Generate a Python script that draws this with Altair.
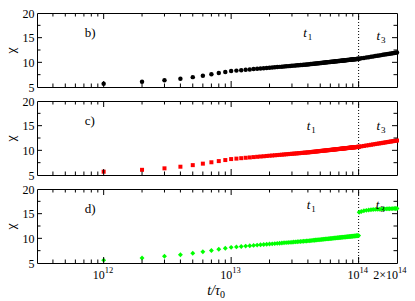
import altair as alt
import pandas as pd

# ---------------- data (t in units of 1e12 tau0) ----------------
t_pre_units = list(range(1, 101))
t_post_units = [101, 105, 110, 115, 120, 125, 130, 135, 140, 145, 150,
                155, 160, 165, 170, 175, 180, 185, 190, 195, 200]

chi_b_pre = [5.67, 6.05, 6.35, 6.68, 7.00, 7.30, 7.58, 7.82, 8.03, 8.23,
             8.32, 8.41, 8.49, 8.56, 8.63, 8.69, 8.75, 8.80, 8.86, 8.91,
             8.95, 9.00, 9.04, 9.08, 9.12, 9.16, 9.20, 9.23, 9.27, 9.30,
             9.33, 9.36, 9.39, 9.42, 9.45, 9.48, 9.51, 9.53, 9.56, 9.58,
             9.61, 9.64, 9.67, 9.70, 9.73, 9.75, 9.78, 9.81, 9.83, 9.86,
             9.88, 9.91, 9.93, 9.95, 9.98, 10.00, 10.02, 10.04, 10.06, 10.08,
             10.10, 10.12, 10.14, 10.16, 10.18, 10.20, 10.22, 10.24, 10.26, 10.27,
             10.29, 10.31, 10.33, 10.34, 10.36, 10.38, 10.39, 10.41, 10.43, 10.44,
             10.46, 10.47, 10.49, 10.50, 10.52, 10.53, 10.55, 10.56, 10.57, 10.59,
             10.60, 10.61, 10.63, 10.64, 10.65, 10.67, 10.68, 10.69, 10.71, 10.72]
chi_b_post = [10.74, 10.81, 10.89, 10.98, 11.05, 11.13, 11.20, 11.27, 11.34, 11.40,
              11.46, 11.52, 11.58, 11.64, 11.69, 11.75, 11.80, 11.85, 11.90, 11.94, 11.99]

chi_c_pre = list(chi_b_pre)
chi_c_post = list(chi_b_post)

chi_d_pre = [5.58, 6.02, 6.38, 6.68, 6.98, 7.27, 7.54, 7.78, 7.98, 8.17,
             8.26, 8.35, 8.43, 8.50, 8.57, 8.63, 8.69, 8.74, 8.79, 8.84,
             8.88, 8.93, 8.97, 9.01, 9.05, 9.09, 9.12, 9.15, 9.19, 9.22,
             9.25, 9.28, 9.31, 9.34, 9.36, 9.39, 9.42, 9.44, 9.47, 9.49,
             9.52, 9.54, 9.57, 9.60, 9.62, 9.65, 9.67, 9.70, 9.72, 9.74,
             9.77, 9.79, 9.81, 9.83, 9.86, 9.88, 9.90, 9.92, 9.94, 9.96,
             9.98, 10.00, 10.02, 10.04, 10.06, 10.07, 10.09, 10.11, 10.13, 10.14,
             10.16, 10.18, 10.19, 10.21, 10.22, 10.24, 10.25, 10.27, 10.28, 10.30,
             10.31, 10.33, 10.34, 10.35, 10.37, 10.38, 10.39, 10.41, 10.42, 10.43,
             10.45, 10.46, 10.47, 10.48, 10.50, 10.51, 10.52, 10.53, 10.54, 10.55]
chi_d_post = [15.30, 15.45, 15.58, 15.67, 15.74, 15.79, 15.83, 15.86, 15.89, 15.91,
              15.93, 15.95, 15.97, 15.98, 16.00, 16.01, 16.02, 16.03, 16.04, 16.05, 16.06]

panel_names = ["b)", "c)", "d)"]
panel_colors = ["#000000", "#ff0000", "#00ff00"]
panel_shapes = ["circle", "square", "diamond"]
panel_sizes = [20, 16, 24]
t1_t = [3.68e13, 3.91e13, 3.91e13]
t1_chi = [15.85, 14.96, 16.7]
t3_t = [1.38e14, 1.38e14, 1.36e14]
t3_chi = [15.26, 14.9, 16.8]
label_t = 7.1e11
label_chi = 16.0

t_split = 1e14
x_domain = [3e11, 2e14]
y_domain = [5, 20]
x_major = [1e12, 1e13, 1e14]
x_minor = [4e11, 5e11, 6e11, 7e11, 8e11, 9e11,
           2e12, 3e12, 4e12, 5e12, 6e12, 7e12, 8e12, 9e12,
           2e13, 3e13, 4e13, 5e13, 6e13, 7e13, 8e13, 9e13]
y_major = [10, 15]
y_minor = [7.5, 12.5, 17.5]
y_labels = [5, 10, 15, 20]
x_label_vals = [1e12, 1e13, 1e14, 2e14]
x_label_base = ["10", "10", "10", "2\u00d710"]
x_label_exp = ["12", "13", "14", "14"]

W, H = 360, 74
FONT = "Liberation Serif"

xs = alt.Scale(type="log", domain=x_domain, nice=False)
ys = alt.Scale(domain=y_domain, nice=False, zero=False)
y_axis = alt.Axis(values=y_labels, ticks=False, tickSize=0, domain=False,
                  grid=False, labelPadding=3, title="\u03c7",
                  titleAngle=90, titleBaseline="top", titlePadding=0)

series = [(chi_b_pre, chi_b_post), (chi_c_pre, chi_c_post), (chi_d_pre, chi_d_post)]


def panel(i, bottom=False):
    pre, post = series[i]
    t_all = [u * 1e12 for u in t_pre_units + t_post_units]
    df = pd.DataFrame({"t": t_all, "chi": pre + post})
    X = lambda: alt.X("t:Q", scale=xs, axis=None)
    pts = alt.Chart(df).mark_point(
        shape=panel_shapes[i], filled=True, size=panel_sizes[i],
        color=panel_colors[i], opacity=1
    ).encode(x=X(), y=alt.Y("chi:Q", scale=ys, axis=y_axis))
    split = alt.Chart(pd.DataFrame({"t": [t_split]})).mark_rule(
        color="black", strokeWidth=1, strokeDash=[1, 2]
    ).encode(x=X())

    xmaj = pd.DataFrame({"t": x_major})
    xmin = pd.DataFrame({"t": x_minor})
    ymaj = pd.DataFrame({"chi": y_major})
    ymin = pd.DataFrame({"chi": y_minor})

    def xt(d, y0, y1):
        return alt.Chart(d).mark_rule(color="black", strokeWidth=1).encode(
            x=X(), y=alt.value(y0), y2=alt.value(y1))

    def yt(d, x0, x1):
        return alt.Chart(d).mark_rule(color="black", strokeWidth=1).encode(
            y=alt.Y("chi:Q", scale=ys, axis=y_axis), x=alt.value(x0), x2=alt.value(x1))

    ticks = [
        xt(xmaj, H, H - 6), xt(xmin, H, H - 3.5),
        xt(xmaj, 0, 6), xt(xmin, 0, 3.5),
        yt(ymaj, 0, 5), yt(ymin, 0, 3.5),
        yt(ymaj, W, W - 5), yt(ymin, W, W - 3.5),
    ]

    lab = alt.Chart(pd.DataFrame({"t": [label_t], "chi": [label_chi], "s": [panel_names[i]]})).mark_text(
        font=FONT, fontSize=13, align="left", baseline="middle", color="black"
    ).encode(x=X(), y=alt.Y("chi:Q", scale=ys, axis=y_axis), text="s:N")

    ann = pd.DataFrame({"t": [t1_t[i], t3_t[i]], "chi": [t1_chi[i], t3_chi[i]],
                        "m": ["t", "t"], "sub": ["1", "3"]})
    tmain = alt.Chart(ann).mark_text(
        font=FONT, fontSize=13, fontStyle="italic", align="left", baseline="middle", color="black"
    ).encode(x=X(), y=alt.Y("chi:Q", scale=ys, axis=y_axis), text="m:N")
    tsub = alt.Chart(ann).mark_text(
        font=FONT, fontSize=9, align="left", baseline="middle", color="black", dx=4.5, dy=4
    ).encode(x=X(), y=alt.Y("chi:Q", scale=ys, axis=y_axis), text="sub:N")

    layers = [split, pts] + ticks + [lab, tmain, tsub]

    if bottom:
        xl = pd.DataFrame({"t": x_label_vals, "b": x_label_base, "e": x_label_exp})
        base = alt.Chart(xl).mark_text(
            font=FONT, fontSize=12, align="right", baseline="middle", color="black", dx=1
        ).encode(x=X(), y=alt.value(H + 12), text="b:N")
        expo = alt.Chart(xl).mark_text(
            font=FONT, fontSize=8.5, align="left", baseline="middle", color="black", dx=1
        ).encode(x=X(), y=alt.value(H + 7), text="e:N")
        ttl = pd.DataFrame({"a": ["t/\u03c4"], "z": ["0"]})
        tt = alt.Chart(ttl).mark_text(
            font=FONT, fontSize=14, fontStyle="italic", align="right", baseline="middle", color="black"
        ).encode(x=alt.value(W / 2 + 3), y=alt.value(H + 28), text="a:N")
        tz = alt.Chart(ttl).mark_text(
            font=FONT, fontSize=10, align="left", baseline="middle", color="black"
        ).encode(x=alt.value(W / 2 + 3), y=alt.value(H + 32), text="z:N")
        layers += [base, expo, tt, tz]

    return alt.layer(*layers).properties(width=W, height=H)


chart = alt.vconcat(panel(0), panel(1), panel(2, bottom=True), spacing=14, bounds="flush").properties(
    padding={"left": 0, "top": -2, "right": 0, "bottom": 0}
).configure_view(stroke="black", strokeWidth=1).configure_axis(
    labelFont=FONT, labelFontSize=12, labelColor="black",
    titleFont=FONT, titleFontSize=13.5, titleFontWeight="normal", titleColor="black"
)

chart.save("out.html", embed_options={"renderer": "svg", "actions": False})
